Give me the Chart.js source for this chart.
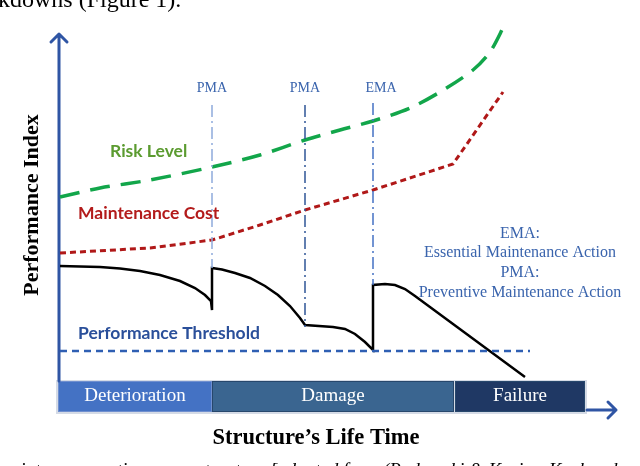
<!DOCTYPE html>
<html lang="en">

<head>
    <meta charset="UTF-8">
    <title>Structure Life Time</title>
    <script src="https://cdn.jsdelivr.net/npm/chart.js"></script>
    <style>
        html,
        body {
            margin: 0;
            padding: 0;
            background: #fff;
        }

        #wrap {
            width: 640px;
            height: 466px;
            position: relative;
        }
    </style>
</head>

<body>
    <div id="wrap"><canvas id="lifeChart"></canvas></div>

    <script>
        // life time on x, performance index on y (arbitrary units)
        const riskX = [0, 8, 18, 30.4, 40, 49, 56, 62.6, 70, 76, 82.6, 86, 89];
        const riskY = [36.6, 38.4, 40, 42.6, 45, 48, 50, 51.8, 54.4, 57.6, 62, 65.6, 71.2];

        const costX = [0, 18, 30.4, 40, 49, 62.6, 78.6, 88.6];
        const costY = [25.4, 26.4, 28, 31, 34, 38, 43.2, 57.6];

        const perfX = [0, 4, 8, 12, 16, 20, 24, 27, 29, 30.2, 30.4,
            30.4, 32.4, 35, 38, 41, 43.6, 46, 48, 49, 54.6, 57, 59, 61, 62.6,
            62.6, 65, 67, 69, 71, 93];
        const perfY = [22.8, 22.7, 22.6, 22.3, 21.8, 21, 19.8, 18.4, 17, 15.8, 14,
            22.4, 22.1, 21.4, 20.4, 18.8, 17, 14.8, 12.4, 11, 10.6, 10.2, 9.2, 7.6, 6,
            19, 19.2, 19, 18.2, 16.8, 0.6];

        const thresholdX = [0, 94];
        const thresholdY = [5.8, 5.8];

        // maintenance actions: position, top and bottom of the marker line
        const actionLabels = ['PMA', 'PMA', 'EMA'];
        const actionX = [30.4, 49, 62.6];
        const actionTop = [55, 55, 55.4];
        const actionBottom = [22.4, 10.6, 19];
        const actionColors = ['#8eaadb', '#2f5597', '#4472c4'];

        // life stages along the bottom
        const stageLabels = ['Deterioration', 'Damage', 'Failure'];
        const stageStart = [-0.4, 30.4, 79];
        const stageEnd = [30.4, 78.8, 105];
        const stageColors = ['#4472c4', '#3a6590', '#1f3864'];

        function pts(xs, ys) {
            return xs.map((x, i) => ({ x: x, y: ys[i] }));
        }

        const datasets = [];

        actionX.forEach((x, i) => {
            datasets.push({
                data: [{ x: x, y: actionTop[i] }, { x: x, y: actionBottom[i] }],
                borderColor: actionColors[i],
                borderWidth: 1.5,
                borderDash: [12, 4, 2, 4]
            });
        });

        datasets.push({
            label: 'Risk Level',
            data: pts(riskX, riskY),
            borderColor: '#12a64a',
            borderWidth: 3.5,
            borderDash: [20, 11],
            tension: 0.3
        });
        datasets.push({
            label: 'Maintenance Cost',
            data: pts(costX, costY),
            borderColor: '#b01818',
            borderWidth: 3,
            borderDash: [6, 4]
        });
        datasets.push({
            label: 'Performance Threshold',
            data: pts(thresholdX, thresholdY),
            borderColor: '#2f5fb3',
            borderWidth: 2.5,
            borderDash: [7, 5]
        });
        datasets.push({
            label: 'Performance',
            data: pts(perfX, perfY),
            borderColor: '#000',
            borderWidth: 2.5
        });

        datasets.forEach(d => {
            d.showLine = true;
            d.pointRadius = 0;
            d.fill = false;
            d.clip = false;
        });

        const serif = '"Liberation Serif", "DejaVu Serif", serif';
        const sans = 'Lato, "Liberation Sans", sans-serif';

        const figurePlugin = {
            id: 'figure',
            beforeDatasetsDraw(chart) {
                const ctx = chart.ctx;
                const xs = chart.scales.x, ys = chart.scales.y;
                ctx.save();

                // stage bands
                const top = ys.getPixelForValue(-0.2), bot = ys.getPixelForValue(-6.4);
                ctx.fillStyle = '#d5dbe6';
                ctx.fillRect(xs.getPixelForValue(-0.8), top - 1, xs.getPixelForValue(105.4) - xs.getPixelForValue(-0.8), bot - top + 3);
                stageLabels.forEach((s, i) => {
                    const x0 = xs.getPixelForValue(stageStart[i]), x1 = xs.getPixelForValue(stageEnd[i]);
                    ctx.fillStyle = stageColors[i];
                    ctx.fillRect(x0, top, x1 - x0, bot - top);
                    ctx.strokeStyle = i == 0 ? '#6f8fcf' : '#27476c';
                    ctx.lineWidth = 1;
                    ctx.strokeRect(x0 + 0.5, top + 0.5, x1 - x0 - 1, bot - top - 1);
                    ctx.fillStyle = '#fff';
                    ctx.font = '19px ' + serif;
                    ctx.textAlign = 'center';
                    ctx.textBaseline = 'middle';
                    ctx.fillText(s, (x0 + x1) / 2, (top + bot) / 2);
                });

                // axes with arrows
                ctx.strokeStyle = '#2f55a4';
                ctx.lineWidth = 3;
                ctx.lineCap = 'round';
                ctx.lineJoin = 'round';
                const ax = xs.getPixelForValue(-0.2);
                const ayTop = ys.getPixelForValue(69.2);
                ctx.beginPath();
                ctx.moveTo(ax, top);
                ctx.lineTo(ax, ayTop);
                ctx.moveTo(ax - 8, ayTop + 8);
                ctx.lineTo(ax, ayTop);
                ctx.lineTo(ax + 8, ayTop + 8);
                ctx.stroke();

                const ay = ys.getPixelForValue(-6);
                const axEnd = xs.getPixelForValue(111.2);
                ctx.beginPath();
                ctx.moveTo(xs.getPixelForValue(105.4), ay);
                ctx.lineTo(axEnd, ay);
                ctx.moveTo(axEnd - 8, ay - 8);
                ctx.lineTo(axEnd, ay);
                ctx.lineTo(axEnd - 8, ay + 8);
                ctx.stroke();
                ctx.restore();
            },
            afterDatasetsDraw(chart) {
                const ctx = chart.ctx;
                const xs = chart.scales.x, ys = chart.scales.y;
                ctx.save();
                ctx.textBaseline = 'middle';

                // action labels
                ctx.fillStyle = '#3a64ad';
                ctx.font = '14px ' + serif;
                ctx.textAlign = 'center';
                actionLabels.forEach((s, i) => {
                    ctx.fillText(s, xs.getPixelForValue(actionX[i]) + (s == 'EMA' ? 8 : 0), ys.getPixelForValue(58.4));
                });

                // series labels
                ctx.textAlign = 'left';
                ctx.font = 'bold 17.5px ' + sans;
                ctx.fillStyle = '#5b9b30';
                ctx.fillText('Risk Level', xs.getPixelForValue(10), ys.getPixelForValue(45.8));
                ctx.fillStyle = '#b31b1b';
                ctx.fillText('Maintenance Cost', xs.getPixelForValue(3.6), ys.getPixelForValue(33.4));
                ctx.fillStyle = '#2a4f9a';
                ctx.fillText('Performance Threshold', xs.getPixelForValue(3.6), ys.getPixelForValue(9.4));

                // key
                ctx.textAlign = 'center';
                ctx.fillStyle = '#3a64ad';
                ctx.font = '16px ' + serif;
                const kx = xs.getPixelForValue(92);
                ctx.fillText('EMA:', kx, ys.getPixelForValue(29.2));
                ctx.fillText('Essential Maintenance Action', kx, ys.getPixelForValue(25.4));
                ctx.fillText('PMA:', kx, ys.getPixelForValue(21.4));
                ctx.fillText('Preventive Maintenance Action', kx, ys.getPixelForValue(17.4));

                // axis titles
                ctx.fillStyle = '#000';
                ctx.font = 'bold 22.5px ' + serif;
                ctx.fillText('Structure\u2019s Life Time', 316, 438);
                ctx.save();
                ctx.translate(32, 205);
                ctx.rotate(-Math.PI / 2);
                ctx.font = 'bold 22px ' + serif;
                ctx.fillText('Performance Index', 0, 0);
                ctx.restore();

                // surrounding page text, cut by the crop
                ctx.textAlign = 'left';
                ctx.textBaseline = 'alphabetic';
                ctx.font = '24px ' + serif;
                ctx.fillText('kdowns (Figure 1).', -2, 7);
                ctx.font = 'italic 19px ' + serif;
                const head = 'maintenance actions over structure [adapted ';
                ctx.fillText(head + 'from (Radomski & Kasian-Kucharska', 343 - ctx.measureText(head).width, 476);
                ctx.restore();
            }
        };

        new Chart(document.getElementById('lifeChart'), {
            type: 'scatter',
            data: { datasets: datasets },
            options: {
                responsive: true,
                maintainAspectRatio: false,
                animation: false,
                layout: { padding: { left: 60, right: 20, top: 20, bottom: 51 } },
                scales: {
                    x: { type: 'linear', min: 0, max: 112, display: false },
                    y: { type: 'linear', min: -7, max: 72, display: false }
                },
                plugins: {
                    legend: { display: false },
                    tooltip: { enabled: false }
                }
            },
            plugins: [figurePlugin]
        });
    </script>
</body>

</html>
